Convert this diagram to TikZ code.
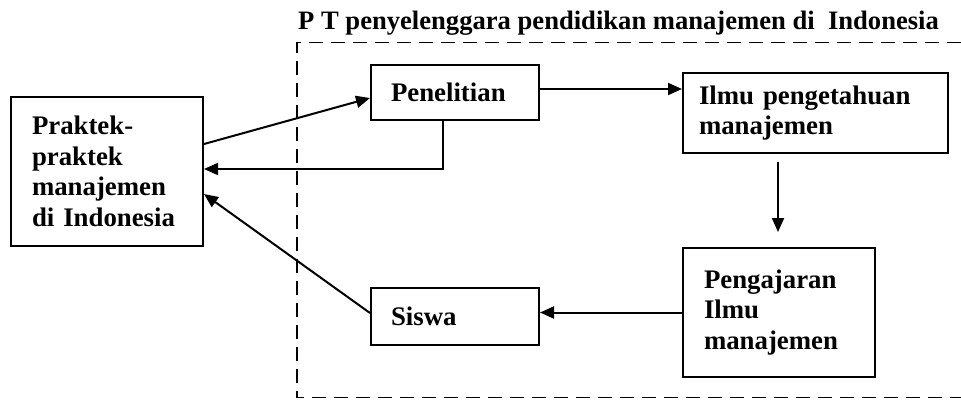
\documentclass[tikz,border=0pt]{standalone}
\usepackage{fontspec}
\setmainfont{Liberation Serif}
\usetikzlibrary{arrows.meta,calc}
\tikzset{
  box/.style={draw, line width=2pt, rectangle, anchor=north west, align=left, inner ysep=0pt,
    font=\fontsize{26.8}{30.5}\selectfont\bfseries},
  arr/.style={line width=2pt, -{Triangle[length=14pt,width=12pt]}},
  frame/.style={line width=1.7pt, dash pattern=on 14pt off 8pt}
}
\begin{document}
\begin{tikzpicture}[x=1pt,y=-1pt]
\useasboundingbox (0,0) rectangle (961,400);
\draw[frame] (961,42.5) -- (297,42.5) -- (297,397.5) -- (961,397.5);
\node[anchor=base west, inner sep=0pt, font=\fontsize{26.6}{30}\selectfont\bfseries] (title) at (298,29)
  {P T penyelenggara pendidikan manajemen di\ \ Indonesia};
\node[box, text width=150pt, inner xsep=21pt, minimum height=149pt] (P) at (10,96)
  {Praktek-\\praktek\\manajemen\\di Indonesia};
\node[box, text width=128pt, inner xsep=20pt, minimum height=55pt] (Pen) at (370,64) {Penelitian};
\node[box, text width=233pt, inner xsep=16pt, minimum height=80pt] (Ilmu) at (682,72)
  {Ilmu pengetahuan\\manajemen};
\node[box, text width=150pt, inner xsep=21pt, minimum height=129pt] (Peng) at (682,247)
  {Pengajaran\\Ilmu\\manajemen};
\node[box, text width=128pt, inner xsep=20pt, minimum height=57pt] (S) at (370,287) {Siswa};
\draw[arr] ([yshift=27.5pt]P.east) -- ([yshift=-5.5pt]Pen.west);
\draw[arr] ([xshift=-12pt]Pen.south) |- ([yshift=2.5pt]P.east);
\draw[arr] ([yshift=3.5pt]S.west) -- ([yshift=-22.5pt]P.east);
\draw[arr] ([yshift=3.5pt]Pen.east) -- ([yshift=3.5pt]Pen.east -| Ilmu.west);
\draw[arr, shorten <=8pt, shorten >=15pt] ([xshift=-37.5pt]Ilmu.south) -- ([xshift=-37.5pt]Ilmu.south |- Peng.north);
\draw[arr] (Peng.west) -- (Peng.west -| S.east);
\end{tikzpicture}
\end{document}
